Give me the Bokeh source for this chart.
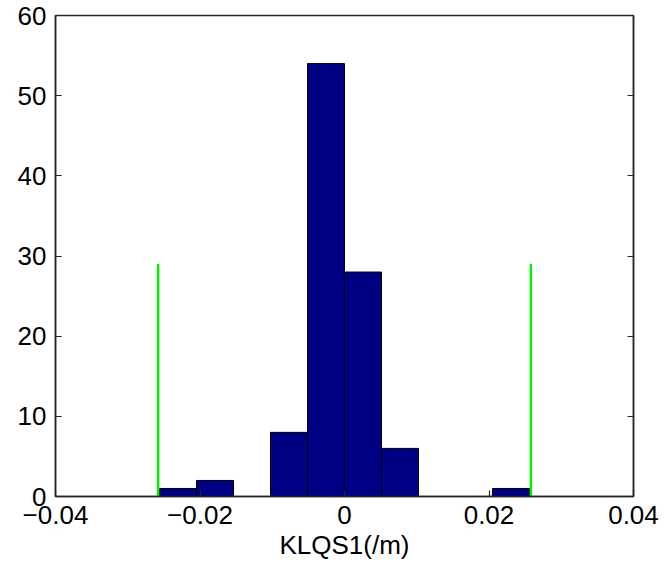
from bokeh.plotting import figure
from bokeh.models import LinearAxis, FixedTicker, ColumnDataSource, Range1d
from bokeh.embed import file_html
from bokeh.resources import INLINE

# ---- data ----
bin_edges = [-0.0256, -0.02048, -0.01536, -0.01024, -0.00512, 0.0,
             0.00512, 0.01024, 0.01536, 0.02048, 0.0256]
counts = [1, 2, 0, 8, 54, 28, 6, 0, 0, 1]
threshold_x = [-0.0258, 0.0258]
threshold_top = [29, 29]
x_ticks = [-0.04, -0.02, 0.0, 0.02, 0.04]
x_tick_labels = ["\u22120.04", "\u22120.02", "0", "0.02", "0.04"]
y_ticks = [0, 10, 20, 30, 40, 50, 60]
x_label = "KLQS1(/m)"

FONT = "Liberation Sans"
FS = "26px"
AX = "#262626"

p = figure(width=664, height=568, output_backend="svg", toolbar_location=None,
           x_range=Range1d(-0.04, 0.04), y_range=Range1d(0, 60),
           min_border_left=55, min_border_right=31, min_border_top=15,
           min_border_bottom=72, x_axis_location=None, y_axis_location=None)
p.xgrid.visible = False
p.ygrid.visible = False
p.outline_line_color = AX
p.outline_line_width = 1.5
p.outline_line_alpha = 1.0
p.background_fill_color = "white"
p.border_fill_color = "white"

src = ColumnDataSource(dict(left=bin_edges[:-1], right=bin_edges[1:],
                            top=counts, bottom=[0] * len(counts)))
p.quad(left="left", right="right", top="top", bottom="bottom", source=src,
       fill_color="#000084", line_color="black", line_width=1)

p.segment(x0=threshold_x, y0=[0, 0], x1=threshold_x, y1=threshold_top,
          line_color="#00EE00", line_width=2.5)

def style(ax):
    ax.axis_line_color = AX
    ax.axis_line_width = 1.5
    ax.major_tick_line_color = AX
    ax.major_tick_line_width = 1.2
    ax.major_tick_in = 6
    ax.major_tick_out = 0
    ax.minor_tick_line_color = None
    ax.major_label_text_font = FONT
    ax.major_label_text_font_size = FS
    ax.major_label_text_color = "black"
    ax.axis_label_text_font = FONT
    ax.axis_label_text_font_size = FS
    ax.axis_label_text_font_style = "normal"
    ax.axis_label_text_color = "black"

xb = LinearAxis(ticker=FixedTicker(ticks=x_ticks), axis_label=x_label)
xb.major_label_overrides = {t: l for t, l in zip(x_ticks, x_tick_labels)}
style(xb)
xb.major_label_standoff = 9
xb.axis_label_standoff = 3
p.add_layout(xb, "below")

yl = LinearAxis(ticker=FixedTicker(ticks=y_ticks))
style(yl)
yl.major_label_standoff = 9
p.add_layout(yl, "left")

yr = LinearAxis(ticker=FixedTicker(ticks=y_ticks))
style(yr)
yr.major_label_overrides = {t: "" for t in y_ticks}
yr.major_label_standoff = 0
p.add_layout(yr, "right")

open("out.html", "w").write(file_html(p, INLINE))
